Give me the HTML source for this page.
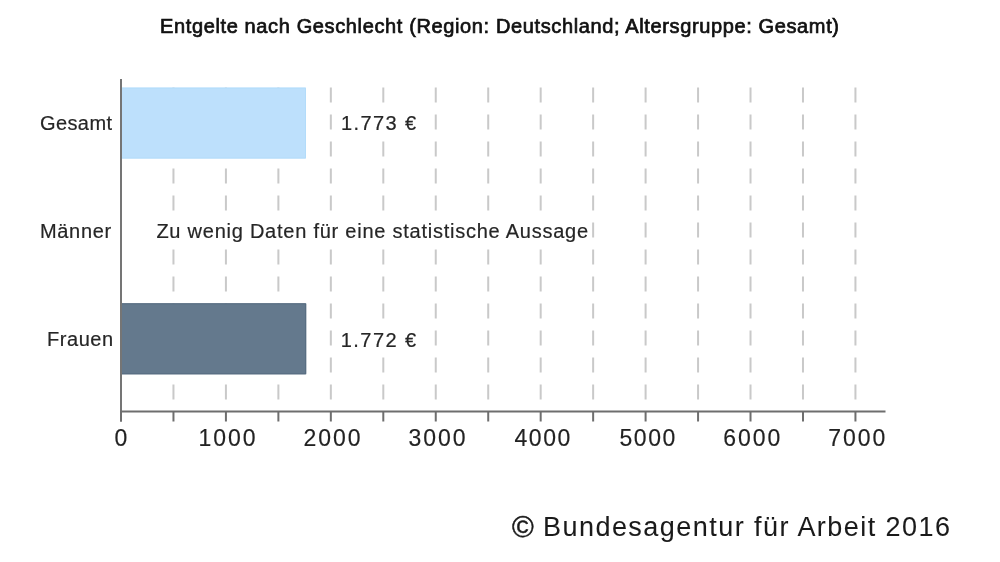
<!DOCTYPE html>
<html><head><meta charset="utf-8">
<style>
html,body{margin:0;padding:0;background:#fff;}
body{width:1000px;height:562px;overflow:hidden;position:relative;}
svg{position:absolute;left:0;top:0;will-change:transform;}
text{font-family:"Liberation Sans",sans-serif;}
</style></head><body>
<svg width="1000" height="562" viewBox="0 0 1000 562">
<g stroke="#c9c9c9" stroke-width="2" stroke-dasharray="15 12"><line x1="173.46" y1="87.6" x2="173.46" y2="410"/><line x1="225.92" y1="87.6" x2="225.92" y2="410"/><line x1="278.38" y1="87.6" x2="278.38" y2="410"/><line x1="330.84" y1="87.6" x2="330.84" y2="410"/><line x1="383.30" y1="87.6" x2="383.30" y2="410"/><line x1="435.76" y1="87.6" x2="435.76" y2="410"/><line x1="488.22" y1="87.6" x2="488.22" y2="410"/><line x1="540.68" y1="87.6" x2="540.68" y2="410"/><line x1="593.14" y1="87.6" x2="593.14" y2="410"/><line x1="645.60" y1="87.6" x2="645.60" y2="410"/><line x1="698.06" y1="87.6" x2="698.06" y2="410"/><line x1="750.52" y1="87.6" x2="750.52" y2="410"/><line x1="802.98" y1="87.6" x2="802.98" y2="410"/><line x1="855.44" y1="87.6" x2="855.44" y2="410"/></g>
<rect x="122" y="87.6" width="184" height="70.9" fill="#bde0fc"/>
<path d="M122 88.1H305.5V158H122" fill="none" stroke="#b3dcfa" stroke-width="1"/>
<rect x="122" y="303.3" width="184.2" height="71" fill="#64798d"/>
<path d="M122 303.8H305.7V373.8H122" fill="none" stroke="#566c80" stroke-width="1"/>
<g fill="#fff">
<rect x="338" y="108" width="82" height="28"/>
<rect x="338" y="325" width="82" height="28"/>
<rect x="153" y="217" width="438" height="28"/>
</g>
<g stroke="#6e6e6e" stroke-width="2">
<line x1="121" y1="79" x2="121" y2="421.5" stroke="#757575"/>
<line x1="120" y1="411.5" x2="885.5" y2="411.5"/>
<line x1="121.00" y1="411" x2="121.00" y2="421.5"/><line x1="173.46" y1="411" x2="173.46" y2="421.5"/><line x1="225.92" y1="411" x2="225.92" y2="421.5"/><line x1="278.38" y1="411" x2="278.38" y2="421.5"/><line x1="330.84" y1="411" x2="330.84" y2="421.5"/><line x1="383.30" y1="411" x2="383.30" y2="421.5"/><line x1="435.76" y1="411" x2="435.76" y2="421.5"/><line x1="488.22" y1="411" x2="488.22" y2="421.5"/><line x1="540.68" y1="411" x2="540.68" y2="421.5"/><line x1="593.14" y1="411" x2="593.14" y2="421.5"/><line x1="645.60" y1="411" x2="645.60" y2="421.5"/><line x1="698.06" y1="411" x2="698.06" y2="421.5"/><line x1="750.52" y1="411" x2="750.52" y2="421.5"/><line x1="802.98" y1="411" x2="802.98" y2="421.5"/><line x1="855.44" y1="411" x2="855.44" y2="421.5"/>
</g>
<text x="160.00" y="33.2" font-size="20" fill="#111" stroke="#111" stroke-width="0.7" textLength="679.01" lengthAdjust="spacing">Entgelte nach Geschlecht (Region: Deutschland; Altersgruppe: Gesamt)</text>
<text x="40.00" y="130" font-size="20" fill="#262626" stroke="#262626" stroke-width="0.2" textLength="72.01" lengthAdjust="spacing">Gesamt</text>
<text x="40.00" y="238" font-size="20" fill="#262626" stroke="#262626" stroke-width="0.2" textLength="71.10" lengthAdjust="spacing">Männer</text>
<text x="47.00" y="345.5" font-size="20" fill="#262626" stroke="#262626" stroke-width="0.2" textLength="66.17" lengthAdjust="spacing">Frauen</text>
<text x="341.00" y="130" font-size="20" fill="#262626" stroke="#262626" stroke-width="0.2" textLength="75.24" lengthAdjust="spacing">1.773 €</text>
<text x="340.80" y="346.5" font-size="20" fill="#262626" stroke="#262626" stroke-width="0.2" textLength="75.28" lengthAdjust="spacing">1.772 €</text>
<text x="156.40" y="238.2" font-size="20" fill="#262626" stroke="#262626" stroke-width="0.2" textLength="431.62" lengthAdjust="spacing">Zu wenig Daten für eine statistische Aussage</text>
<text x="512.00" y="537.2" font-size="29.5" fill="#1a1a1a" stroke="#1a1a1a" stroke-width="0.5">©</text>
<text x="543.00" y="536.3" font-size="27" fill="#1a1a1a" stroke="#1a1a1a" stroke-width="0.05" textLength="407.07" lengthAdjust="spacing">Bundesagentur für Arbeit 2016</text>
<text x="114.60" y="446.1" font-size="23" fill="#222" stroke="#222" stroke-width="0.15">0</text>
<text x="198.56" y="446.1" font-size="23" fill="#222" stroke="#222" stroke-width="0.15" textLength="57.10" lengthAdjust="spacing">1000</text>
<text x="303.52" y="446.1" font-size="23" fill="#222" stroke="#222" stroke-width="0.15" textLength="57.04" lengthAdjust="spacing">2000</text>
<text x="408.48" y="446.1" font-size="23" fill="#222" stroke="#222" stroke-width="0.15" textLength="57.04" lengthAdjust="spacing">3000</text>
<text x="514.44" y="446.1" font-size="23" fill="#222" stroke="#222" stroke-width="0.15" textLength="55.98" lengthAdjust="spacing">4000</text>
<text x="619.40" y="446.1" font-size="23" fill="#222" stroke="#222" stroke-width="0.15" textLength="56.00" lengthAdjust="spacing">5000</text>
<text x="723.36" y="446.1" font-size="23" fill="#222" stroke="#222" stroke-width="0.15" textLength="57.04" lengthAdjust="spacing">6000</text>
<text x="828.32" y="446.1" font-size="23" fill="#222" stroke="#222" stroke-width="0.15" textLength="57.06" lengthAdjust="spacing">7000</text>
</svg>
</body></html>
